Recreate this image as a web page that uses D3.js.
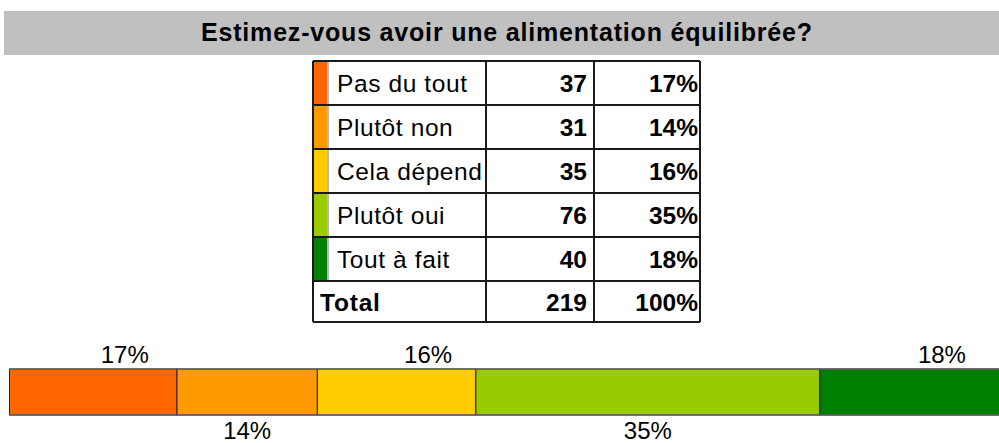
<!DOCTYPE html>
<html>
<head>
<meta charset="utf-8">
<script src="https://cdn.jsdelivr.net/npm/d3@7"></script>
<style>
  html, body { margin: 0; padding: 0; background: #fff; }
  svg { display: block; font-family: "Liberation Sans", Arial, sans-serif; }
</style>
</head>
<body>
<svg id="chart" width="999" height="443"></svg>
<script>
// Survey answers, counts and colours
const title = "Estimez-vous avoir une alimentation équilibrée?";
const categories = ["Pas du tout", "Plutôt non", "Cela dépend", "Plutôt oui", "Tout à fait"];
const counts = [37, 31, 35, 76, 40];
const percents = ["17%", "14%", "16%", "35%", "18%"];
const colors = ["#FF6600", "#FF9900", "#FFCC00", "#99CC00", "#008000"];
const totalLabel = "Total";
const totalCount = 219;
const totalPercent = "100%";

const svg = d3.select("#chart");

// Title band
svg.append("rect")
  .attr("x", 4).attr("y", 11).attr("width", 995).attr("height", 44)
  .attr("fill", "#C0C0C0");
svg.append("text")
  .attr("x", 201).attr("y", 41)
  .attr("font-size", 25).attr("font-weight", "bold")
  .attr("textLength", 611).attr("lengthAdjust", "spacing")
  .attr("fill", "#000")
  .text(title);

// Summary table
const tX = 313, col1 = 486, col2 = 594, tRight = 700;
const tTop = 61, rowH = 44, totalH = 41;
const rowY = d3.scaleBand().domain(d3.range(categories.length))
  .range([tTop, tTop + rowH * categories.length]).padding(0);
const tBottom = tTop + rowH * categories.length + totalH;

const rows = svg.append("g").selectAll("g")
  .data(categories.map((c, i) => ({ c, n: counts[i], p: percents[i], col: colors[i], i })))
  .join("g")
  .attr("transform", d => `translate(0,${rowY(d.i)})`);

rows.append("rect")
  .attr("x", tX).attr("y", 0).attr("width", 14).attr("height", rowY.bandwidth())
  .attr("fill", d => d.col);
rows.append("line")
  .attr("x1", tX + 15).attr("x2", tX + 15).attr("y1", 0).attr("y2", rowY.bandwidth())
  .attr("stroke", "#a0a0a0").attr("stroke-width", 1.5);
rows.append("text")
  .attr("x", 337).attr("y", 31)
  .attr("font-size", 24.5).attr("letter-spacing", 0.6)
  .text(d => d.c);
rows.append("text")
  .attr("x", col2 - 7).attr("y", 31).attr("text-anchor", "end")
  .attr("font-size", 24.5).attr("font-weight", "bold")
  .text(d => d.n);
rows.append("text")
  .attr("x", tRight - 2).attr("y", 31).attr("text-anchor", "end")
  .attr("font-size", 24.5).attr("font-weight", "bold")
  .text(d => d.p);

// Total row
const totY = tTop + rowH * categories.length;
const tot = svg.append("g").attr("transform", `translate(0,${totY})`);
tot.append("text").attr("x", 320).attr("y", 30)
  .attr("font-size", 24.5).attr("font-weight", "bold").attr("letter-spacing", 0.8)
  .text(totalLabel);
tot.append("text").attr("x", col2 - 7).attr("y", 30).attr("text-anchor", "end")
  .attr("font-size", 24.5).attr("font-weight", "bold").text(totalCount);
tot.append("text").attr("x", tRight - 2).attr("y", 30).attr("text-anchor", "end")
  .attr("font-size", 24.5).attr("font-weight", "bold").text(totalPercent);

// Grid lines of the table
const grid = svg.append("g").attr("stroke", "#1a1a1a").attr("stroke-width", 2);
const hLines = d3.range(categories.length + 1).map(i => tTop + rowH * i).concat([tBottom]);
grid.selectAll("line.h").data(hLines).join("line")
  .attr("x1", tX).attr("x2", tRight).attr("y1", d => d).attr("y2", d => d);
grid.selectAll("line.v").data([tX, col1, col2, tRight]).join("line")
  .attr("x1", d => d).attr("x2", d => d).attr("y1", tTop).attr("y2", tBottom);

// Stacked 100% bar
const starts = counts.map((c, i) => d3.sum(counts.slice(0, i)));
const x = d3.scaleLinear().domain([0, d3.sum(counts)]).range([9.5, 1001]);
const barTop = 369, barH = 46;
const seg = counts.map((c, i) => ({ c, s: starts[i], p: percents[i], col: colors[i], i }));

svg.append("g").selectAll("rect").data(seg).join("rect")
  .attr("x", d => x(d.s)).attr("y", barTop)
  .attr("width", d => x(d.s + d.c) - x(d.s)).attr("height", barH)
  .attr("fill", d => d.col)
  .attr("stroke", "#222").attr("stroke-width", 1);

// Outline top and bottom in grey
svg.append("line").attr("x1", x(0)).attr("x2", 999).attr("y1", barTop).attr("y2", barTop)
  .attr("stroke", "#666").attr("stroke-width", 1.5);
svg.append("line").attr("x1", x(0)).attr("x2", 999).attr("y1", barTop + barH).attr("y2", barTop + barH)
  .attr("stroke", "#666").attr("stroke-width", 1.5);

// Percent labels alternate above and below the bar
svg.append("g").selectAll("text").data(seg).join("text")
  .attr("x", d => (x(d.s) + x(d.s + d.c)) / 2 + (d.i % 2 === 0 ? 31.5 : 0))
  .attr("y", d => d.i % 2 === 0 ? 363 : 439)
  .attr("text-anchor", "middle")
  .attr("font-size", 24)
  .text(d => d.p);
</script>
</body>
</html>
